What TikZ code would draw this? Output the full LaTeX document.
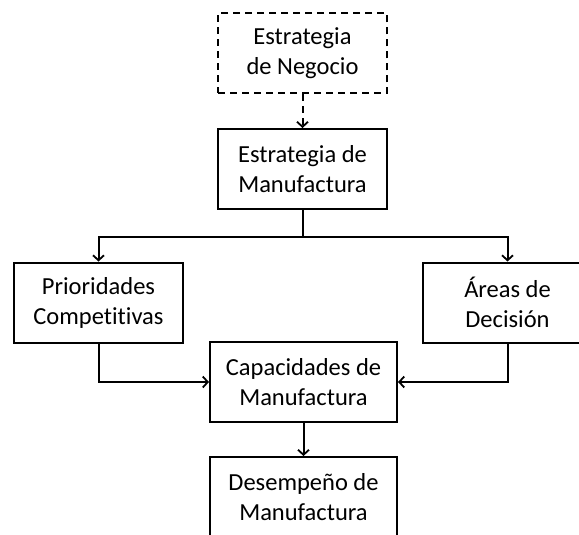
\documentclass[tikz,border=0pt]{standalone}
\usepackage{fontspec}
\setmainfont[Ligatures={NoCommon}]{Carlito}
\usetikzlibrary{arrows.meta}
\begin{document}
\begin{tikzpicture}[x=1pt,y=1pt,
  box/.style={draw=black,line width=2pt,minimum width=169pt,minimum height=80pt,inner sep=0pt,align=center,font=\fontsize{24.5}{30}\selectfont},
  dbox/.style={box,dashed,dash pattern=on 7pt off 5pt},
  conn/.style={line width=2pt,-{Straight Barb[length=5pt,width=11pt,line width=1.8pt]}}]
\clip (0,0) rectangle (579,-535);
\fill[white] (0,0) rectangle (579,-535);
\node[dbox] (neg) at (302.5,-53.5) {Estrategia\\de Negocio};
\node[box] (man) at (302.5,-169) {Estrategia de\\Manufactura};
\node[box] (pri) at (98.5,-302.5) {Prioridades\\Competitivas};
\node[box] (are) at (507.5,-302.5) {Áreas de\\Decisión};
\node[box,minimum width=187pt] (cap) at (303.5,-382) {Capacidades de\\Manufactura};
\node[box,minimum width=187pt] (des) at (303.5,-497) {Desempeño de\\Manufactura};
\draw[conn,dashed,dash pattern=on 7pt off 5pt] (neg) -- (man);
\draw[line width=2pt] (man.south) -- ++(0,-27) coordinate (split);
\draw[conn] (split) -| (pri.north);
\draw[conn] (split) -| (are.north);
\draw[conn] (pri.south) |- (cap.west);
\draw[conn] (are.south) |- (cap.east);
\draw[conn] (cap) -- (des);
\end{tikzpicture}
\end{document}
